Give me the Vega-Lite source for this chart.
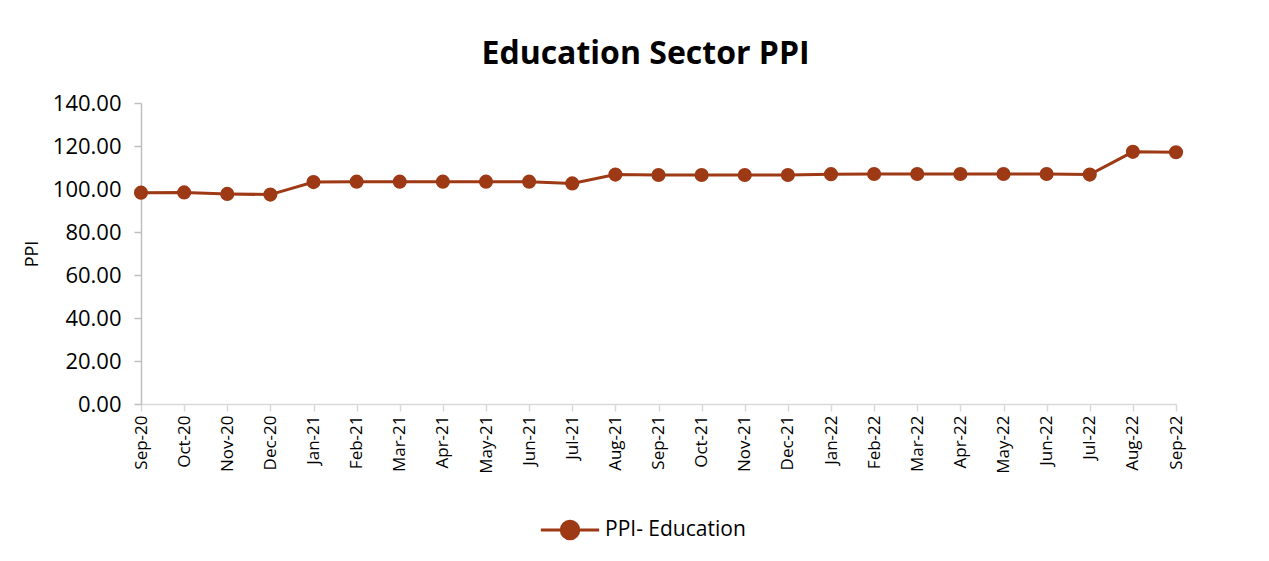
{
  "$schema": "https://vega.github.io/schema/vega-lite/v6.json",
  "width": 1035,
  "height": 301,
  "autosize": {"type": "none"},
  "padding": {"left": 141, "top": 103, "right": 93, "bottom": 157},
  "background": "white",
  "title": {
    "text": "Education Sector PPI",
    "font": "Open Sans",
    "fontSize": 32,
    "fontWeight": "bold",
    "color": "#000000",
    "anchor": "middle",
    "offset": 21,
    "dx": -13
  },
  "data": {
    "values": [
      {"month": "Sep-20", "series": "PPI- Education", "ppi": 98.3},
      {"month": "Oct-20", "series": "PPI- Education", "ppi": 98.4},
      {"month": "Nov-20", "series": "PPI- Education", "ppi": 97.7},
      {"month": "Dec-20", "series": "PPI- Education", "ppi": 97.4},
      {"month": "Jan-21", "series": "PPI- Education", "ppi": 103.2},
      {"month": "Feb-21", "series": "PPI- Education", "ppi": 103.4},
      {"month": "Mar-21", "series": "PPI- Education", "ppi": 103.4},
      {"month": "Apr-21", "series": "PPI- Education", "ppi": 103.4},
      {"month": "May-21", "series": "PPI- Education", "ppi": 103.4},
      {"month": "Jun-21", "series": "PPI- Education", "ppi": 103.4},
      {"month": "Jul-21", "series": "PPI- Education", "ppi": 102.6},
      {"month": "Aug-21", "series": "PPI- Education", "ppi": 106.7},
      {"month": "Sep-21", "series": "PPI- Education", "ppi": 106.5},
      {"month": "Oct-21", "series": "PPI- Education", "ppi": 106.5},
      {"month": "Nov-21", "series": "PPI- Education", "ppi": 106.5},
      {"month": "Dec-21", "series": "PPI- Education", "ppi": 106.5},
      {"month": "Jan-22", "series": "PPI- Education", "ppi": 106.9},
      {"month": "Feb-22", "series": "PPI- Education", "ppi": 107.0},
      {"month": "Mar-22", "series": "PPI- Education", "ppi": 107.0},
      {"month": "Apr-22", "series": "PPI- Education", "ppi": 107.0},
      {"month": "May-22", "series": "PPI- Education", "ppi": 107.0},
      {"month": "Jun-22", "series": "PPI- Education", "ppi": 107.0},
      {"month": "Jul-22", "series": "PPI- Education", "ppi": 106.7},
      {"month": "Aug-22", "series": "PPI- Education", "ppi": 117.3},
      {"month": "Sep-22", "series": "PPI- Education", "ppi": 117.1}
    ]
  },
  "encoding": {
    "x": {
      "field": "month",
      "type": "ordinal",
      "sort": null,
      "scale": {"type": "point", "padding": 0},
      "axis": {
        "title": null,
        "labelAngle": -90,
        "labelFont": "Open Sans",
        "labelFontSize": 17,
        "labelColor": "#000000",
        "labelPadding": 4,
        "domainColor": "#d9d9d9",
        "domainWidth": 1.5,
        "tickColor": "#d9d9d9",
        "tickSize": 7,
        "tickWidth": 1.5,
        "grid": false
      }
    },
    "y": {
      "field": "ppi",
      "type": "quantitative",
      "scale": {"domain": [0, 140], "nice": false},
      "axis": {
        "title": "PPI",
        "titleFont": "Open Sans",
        "titleFontSize": 18,
        "titleFontWeight": "normal",
        "titleColor": "#000000",
        "titlePadding": 11,
        "values": [0, 20, 40, 60, 80, 100, 120, 140],
        "format": ".2f",
        "labelFont": "Open Sans",
        "labelFontSize": 22,
        "labelColor": "#000000",
        "labelPadding": 13,
        "domainColor": "#bfbfbf",
        "domainWidth": 1.5,
        "tickColor": "#bfbfbf",
        "tickSize": 7,
        "tickWidth": 1.5,
        "grid": false
      }
    },
    "color": {
      "field": "series",
      "type": "nominal",
      "scale": {"range": ["#9E3915"]},
      "legend": {
        "title": null,
        "orient": "none",
        "legendX": 398,
        "legendY": 396,
        "symbolType": "M-1,0H1M-0.3,0a0.3,0.3 0 1,0 0.6,0a0.3,0.3 0 1,0 -0.6,0Z",
        "symbolSize": 3400,
        "symbolStrokeWidth": 3,
        "symbolFillColor": "#9E3915",
        "symbolStrokeColor": "#9E3915",
        "labelFont": "Open Sans",
        "labelFontSize": 21,
        "labelColor": "#000000",
        "labelOffset": 4
      }
    }
  },
  "layer": [
    {"mark": {"type": "line", "strokeWidth": 3}},
    {"mark": {"type": "point", "filled": true, "opacity": 1, "size": 200}}
  ],
  "config": {"view": {"stroke": null}}
}
